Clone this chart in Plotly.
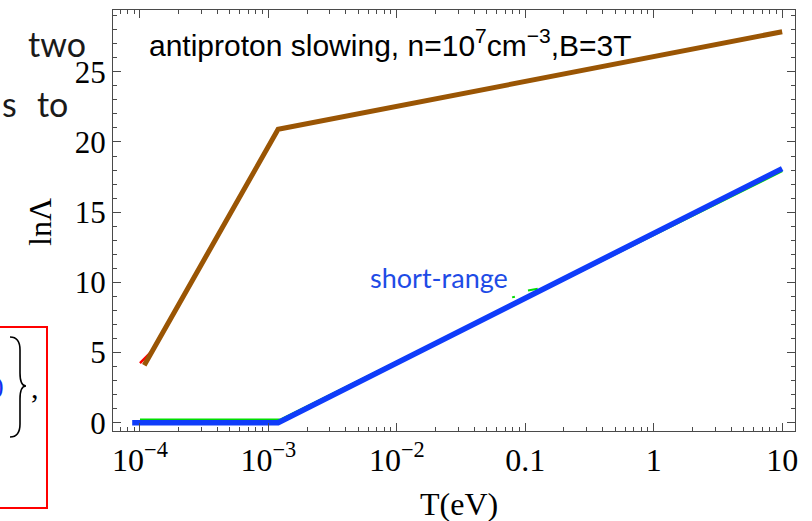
import plotly.graph_objects as go

# ---------------- data ----------------
T_red = [1.0e-4, 1.25e-4, 1.19e-3]
lnL_red = [4.25, 5.13, 20.9]

T_brown = [1.08e-4, 1.19e-3, 10.0]
lnL_brown = [4.1, 20.9, 27.85]

T_green = [1.0e-4, 1.25e-3, 10.0]
lnL_green = [0.2, 0.2, 17.95]

T_green_bits = [0.079, 0.083, None, 0.105, 0.125]
lnL_green_bits = [8.93, 8.98, None, 9.42, 9.55]

T_blue = [8.7e-5, 1.19e-3, 10.0]
lnL_blue = [0.0, 0.0, 18.1]

x_tickvals = [1e-4, 1e-3, 1e-2, 0.1, 1, 10]
x_ticktext = ["10<sup>\u22124</sup>", "10<sup>\u22123</sup>", "10<sup>\u22122</sup>", "0.1", "1", "10"]
y_tickvals = [0, 5, 10, 15, 20, 25]

# ---------------- layout geometry ----------------
W, H = 812, 521
L, R, TOP, BOT = 113, 795, 10, 431


def px(x):
    return (x - L) / (R - L)


def py(y):
    return (BOT - y) / (BOT - TOP)


fig = go.Figure()
fig.add_trace(go.Scatter(x=T_red, y=lnL_red, mode="lines",
                         line=dict(color="#FF0000", width=2.5), showlegend=False))
fig.add_trace(go.Scatter(x=T_brown, y=lnL_brown, mode="lines",
                         line=dict(color="#9A5504", width=5), showlegend=False))
fig.add_trace(go.Scatter(x=T_green, y=lnL_green, mode="lines",
                         line=dict(color="#00DD00", width=3), showlegend=False))
fig.add_trace(go.Scatter(x=T_green_bits, y=lnL_green_bits, mode="lines",
                         line=dict(color="#00DD00", width=2), showlegend=False,
                         connectgaps=False))
fig.add_trace(go.Scatter(x=T_blue, y=lnL_blue, mode="lines",
                         line=dict(color="#0F3CFA", width=5.5), showlegend=False))

minor_x = [m * 10.0 ** e for e in range(-5, 2) for m in range(2, 10)]

frame_col = "#4A4A4A"
serif = "Liberation Serif, Times New Roman, serif"
slide_font = dict(family="Lato, Open Sans, sans-serif", size=34, color="#1A1A1A")

fig.update_xaxes(
    type="log", range=[-4.21, 1.10],
    showline=True, linecolor=frame_col, linewidth=1.3, mirror="allticks",
    ticks="inside", ticklen=8, tickwidth=1.2, tickcolor=frame_col,
    tickmode="array", tickvals=x_tickvals, ticktext=x_ticktext,
    tickfont=dict(family=serif, size=32, color="black"), showgrid=False, zeroline=False,
    minor=dict(tickmode="array", tickvals=minor_x, ticks="inside", ticklen=4,
               tickwidth=1, tickcolor=frame_col, showgrid=False),
)
fig.update_yaxes(
    range=[-0.59, 29.4],
    showline=True, linecolor=frame_col, linewidth=1.3, mirror="allticks",
    ticks="inside", ticklen=8, tickwidth=1.2, tickcolor=frame_col,
    tickmode="array", tickvals=y_tickvals,
    tickfont=dict(family=serif, size=31, color="black"), showgrid=False, zeroline=False,
    minor=dict(dtick=1, ticks="inside", ticklen=4, tickwidth=1,
               tickcolor=frame_col, showgrid=False),
)

annotations = [
    dict(x=px(147), y=py(43), xref="paper", yref="paper", xanchor="left", yanchor="middle",
         text="antiproton slowing, n=10<sup>7</sup>cm<sup>\u22123</sup>,B=3T", showarrow=False,
         font=dict(family="Liberation Sans, Arial, sans-serif", size=30, color="black")),
    dict(x=px(368), y=py(277), xref="paper", yref="paper", xanchor="left", yanchor="middle",
         text="short-range", showarrow=False,
         font=dict(family="Lato, Open Sans, sans-serif", size=27, color="#1E4BE6")),
    dict(x=px(459), y=py(504), xref="paper", yref="paper", xanchor="center", yanchor="middle",
         text="T(eV)", showarrow=False,
         font=dict(family=serif, size=32, color="black")),
    dict(x=px(40), y=py(222), xref="paper", yref="paper", xanchor="center", yanchor="middle",
         text="ln\u039b", textangle=-90, showarrow=False,
         font=dict(family=serif, size=32, color="black")),
    # fragments of the surrounding slide
    dict(x=px(88), y=py(43), xref="paper", yref="paper", xanchor="right", yanchor="middle",
         text="two", showarrow=False, font=slide_font),
    dict(x=px(0), y=py(104), xref="paper", yref="paper", xanchor="left", yanchor="middle",
         text="s", showarrow=False, font=slide_font),
    dict(x=px(70), y=py(104), xref="paper", yref="paper", xanchor="right", yanchor="middle",
         text="to", showarrow=False, font=slide_font),
    dict(x=px(35), y=py(387), xref="paper", yref="paper", xanchor="center", yanchor="middle",
         text=",", showarrow=False,
         font=dict(family=serif, size=30, color="black")),
    dict(x=px(6), y=py(385), xref="paper", yref="paper", xanchor="right", yanchor="middle",
         text=")", showarrow=False,
         font=dict(family=serif, size=26, color="#1030F0")),
]


def P(x, y):
    return f"{px(x):.5f} {py(y):.5f}"


brace = (f"M {P(10,337)} Q {P(20,337)} {P(20,350)} L {P(20,373)} Q {P(20,386)} {P(26,386)} "
         f"Q {P(20,386)} {P(20,399)} L {P(20,424)} Q {P(20,437)} {P(10,437)}")

shapes = [
    dict(type="rect", xref="paper", yref="paper", x0=px(-5), x1=px(47), y0=py(508), y1=py(327),
         line=dict(color="#FF0000", width=2), fillcolor="rgba(0,0,0,0)", layer="above"),
    dict(type="path", xref="paper", yref="paper", path=brace,
         line=dict(color="black", width=1.6)),
]

fig.update_layout(
    width=W, height=H,
    margin=dict(l=L, r=W - R, t=TOP, b=H - BOT),
    paper_bgcolor="white", plot_bgcolor="white",
    annotations=annotations, shapes=shapes, showlegend=False,
)

fig.write_html("out.html")
